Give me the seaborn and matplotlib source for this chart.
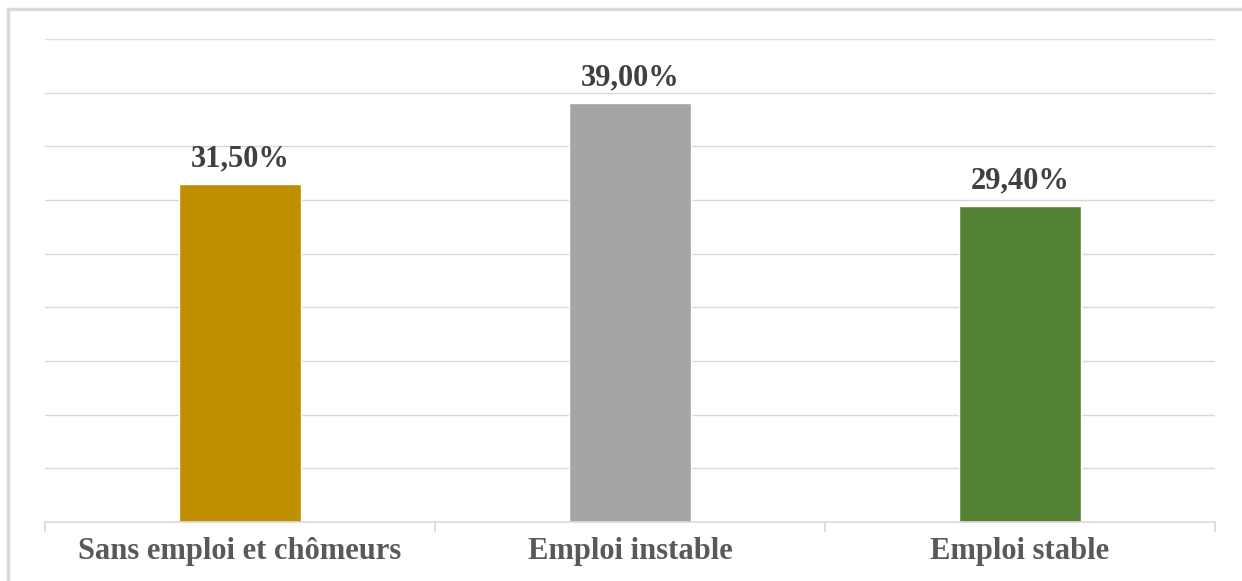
import matplotlib
matplotlib.use("Agg")
import matplotlib.pyplot as plt
import seaborn as sns
import pandas as pd
from matplotlib.patches import Rectangle

categories = ["Sans emploi et chômeurs", "Emploi instable", "Emploi stable"]
values = [31.5, 39.0, 29.4]
labels = ["31,50%", "39,00%", "29,40%"]
colors = ["#BF8F00", "#A5A5A5", "#548235"]

sns.set_theme(style="white")
plt.rcParams['font.family'] = ['Liberation Serif', 'DejaVu Serif']

df = pd.DataFrame({"cat": categories, "val": values})

fig = plt.figure(figsize=(12.42, 5.81), dpi=100)
ax = fig.add_axes([45/1242, 59/581, 1170/1242, 483/581])

sns.barplot(data=df, x="cat", y="val", hue="cat", palette=colors, width=0.315,
            legend=False, ax=ax, saturation=1)

ax.set_xlim(-0.5, 2.5)
ax.set_ylim(0, 45)
ax.set_yticks(range(0, 46, 5))
ax.yaxis.grid(True, color="#D9D9D9", linewidth=1)
ax.set_axisbelow(True)
ax.tick_params(axis="y", left=False, labelleft=False)
ax.set_xlabel("")
ax.set_ylabel("")
for s in ["top", "right", "left"]:
    ax.spines[s].set_visible(False)
ax.spines["bottom"].set_color("#D9D9D9")
ax.spines["bottom"].set_linewidth(1.2)

ax.set_xticks([-0.5, 0.5, 1.5, 2.5], minor=True)
ax.tick_params(axis="x", which="minor", length=7, color="#D9D9D9", width=1.2, bottom=True)
ax.tick_params(axis="x", which="major", length=0, pad=11)
for t in ax.get_xticklabels():
    t.set_fontsize(22)
    t.set_fontweight("bold")
    t.set_color("#595959")

for i, (v, lab) in enumerate(zip(values, labels)):
    ax.text(i, v + 1.0, lab, ha="center", va="bottom", fontsize=22,
            fontweight="bold", color="#404040")

fig.patches.append(Rectangle((8/1242, -0.1), 1.2, (581-9)/581 + 0.1,
                             transform=fig.transFigure, fill=False,
                             edgecolor="#D9D9D9", linewidth=2.5, zorder=0))

fig.savefig("out.png", dpi=100)
